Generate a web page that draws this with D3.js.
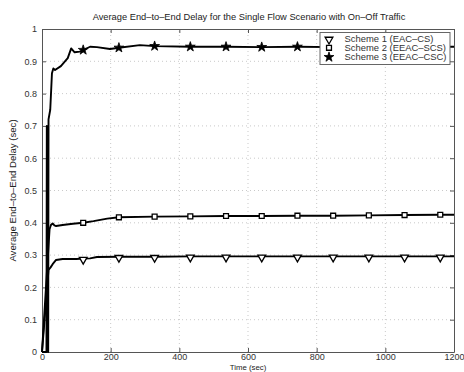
<!DOCTYPE html>
<html><head><meta charset="utf-8">
<script src="https://cdn.jsdelivr.net/npm/d3@7"></script>
<style>
body{margin:0;background:#fff;}
svg{display:block;font-family:"Liberation Sans",Arial,sans-serif;}
</style></head>
<body><svg id="c" width="464" height="372"></svg>
<script>
const titleText = "Average End\u2013to\u2013End Delay for the Single Flow Scenario with On\u2013Off Traffic";
const xLabel = "Time (sec)";
const yLabel = "Average End\u2013to\u2013End Delay (sec)";
const xTicks = [0, 200, 400, 600, 800, 1000, 1200];
const yTicks = [0, 0.1, 0.2, 0.3, 0.4, 0.5, 0.6, 0.7, 0.8, 0.9, 1];
const seriesNames = ["Scheme 1 (EAC\u2013CS)", "Scheme 2 (EEAC\u2013SCS)", "Scheme 3 (EEAC\u2013CSC)"];
const markerTimes = [120, 224, 328, 432, 536, 640, 744, 848, 952, 1056, 1160];

const s1Time = [0, 19, 25, 31, 41, 60, 100, 120, 140, 160, 224, 328, 432, 536, 640, 744, 848, 952, 1056, 1160, 1200];
const s1Delay = [0, .254, .262, .272, .285, .288, .288, .289, .290, .294, .295, .295, .296, .296, .296, .296, .296, .296, .296, .296, .296];

const s2Time = [0, 22, 26, 31, 36, 41, 60, 90, 120, 150, 190, 224, 328, 432, 536, 640, 744, 848, 952, 1056, 1160, 1200];
const s2Delay = [0, .38, .393, .398, .392, .39, .393, .397, .40, .405, .413, .417, .419, .42, .421, .421, .422, .422, .423, .424, .425, .425];

const s3Time = [0, 13, 14, 18, 19, 24, 29, 33, 38, 55, 75, 85, 95, 110, 120, 140, 160, 198, 224, 285, 328, 432, 536, 640, 744, 848, 952, 1056, 1160, 1200];
const s3Delay = [0, 0, .70, 0, .72, .75, .863, .878, .873, .885, .91, .94, .928, .93, .935, .945, .944, .938, .942, .95, .947, .945, .945, .944, .945, .944, .944, .945, .945, .945];

const W = 464, H = 372;
const m = {l: 42, r: 10, t: 29, b: 20};
const svg = d3.select("#c");
const x = d3.scaleLinear().domain([0, 1200]).range([m.l, W - m.r]);
const y = d3.scaleLinear().domain([0, 1]).range([H - m.b, m.t]);
const x0 = m.l, x1 = W - m.r, y0 = H - m.b, y1 = m.t;

// grid
const g = svg.append("g");
g.selectAll(".gx").data(xTicks.slice(1, -1)).join("line")
  .attr("x1", d => x(d)).attr("x2", d => x(d)).attr("y1", y0).attr("y2", y1)
  .attr("stroke", "#bbb").attr("stroke-width", 0.8).attr("stroke-dasharray", "1,3");
g.selectAll(".gy").data(yTicks.slice(1, -1)).join("line")
  .attr("y1", d => y(d)).attr("y2", d => y(d)).attr("x1", x0).attr("x2", x1)
  .attr("stroke", "#bbb").attr("stroke-width", 0.8).attr("stroke-dasharray", "1,3");

// axes (matlab style, inward ticks)
const axStyle = sel => { sel.select(".domain").attr("stroke", "#555");
  sel.selectAll(".tick line").attr("stroke", "#555");
  sel.selectAll("text").attr("fill", "#333").style("font-size", "9px"); };
svg.append("g").attr("transform", `translate(0,${y0})`)
  .call(d3.axisBottom(x).tickValues(xTicks).tickFormat(d3.format("d")).tickSizeInner(-4).tickSizeOuter(0).tickPadding(2))
  .call(axStyle);
svg.append("g").attr("transform", `translate(0,${y1})`)
  .call(d3.axisTop(x).tickValues(xTicks).tickFormat("").tickSizeInner(-4).tickSizeOuter(0))
  .call(axStyle);
svg.append("g").attr("transform", `translate(${x0},0)`)
  .call(d3.axisLeft(y).tickValues(yTicks).tickFormat(d => d === 0 || d === 1 ? d3.format("d")(d) : d3.format(".1f")(d)).tickSizeInner(-4).tickSizeOuter(0).tickPadding(5))
  .call(axStyle);
svg.append("g").attr("transform", `translate(${x1},0)`)
  .call(d3.axisRight(y).tickValues(yTicks).tickFormat("").tickSizeInner(-4).tickSizeOuter(0))
  .call(axStyle);

// lines
const series = [
  {t: s1Time, v: s1Delay, sym: "tri"},
  {t: s2Time, v: s2Delay, sym: "sq"},
  {t: s3Time, v: s3Delay, sym: "star"}
];
const line = d3.line().x(d => x(d[0])).y(d => y(d[1]));
const symGen = {
  tri: d3.symbol().type(d3.symbolTriangle).size(26),
  sq: d3.symbol().type(d3.symbolSquare).size(24),
  star: d3.symbol().type(d3.symbolStar).size(30)
};
function drawMarker(sel, sym, px, py) {
  const p = sel.append("path").attr("d", symGen[sym]()).attr("stroke", "#000").attr("stroke-width", 1.3);
  if (sym === "tri") p.attr("transform", `translate(${px},${py+1}) rotate(180)`).attr("fill", "#fff");
  else if (sym === "sq") p.attr("transform", `translate(${px},${py})`).attr("fill", "#fff");
  else p.attr("transform", `translate(${px},${py})`).attr("fill", "#000").attr("stroke-width", 0.8);
}
series.forEach(s => {
  const pts = s.t.map((t, i) => [t, s.v[i]]);
  svg.append("path").datum(pts).attr("d", line).attr("fill", "none")
    .attr("stroke", "#000").attr("stroke-width", 1.9).attr("stroke-linejoin", "round");
  const mg = svg.append("g");
  pts.filter(p => markerTimes.includes(p[0])).forEach(p => drawMarker(mg, s.sym, x(p[0]), y(p[1])));
});

// legend
const lg = svg.append("g");
lg.append("rect").attr("x", 320).attr("y", 32.5).attr("width", 130).attr("height", 32)
  .attr("fill", "#fff").attr("stroke", "#666").attr("stroke-width", 1);
seriesNames.forEach((n, i) => {
  const yy = 38.5 + i * 9.3;
  drawMarker(lg, series[i].sym, 329, yy);
  lg.append("text").attr("transform", `translate(344.5,${yy + 3.2}) scale(1.07,1)`).text(n)
    .attr("fill", "#333").style("font-size", "8.8px");
});

// texts
svg.append("text").attr("x", 249).attr("y", 20).attr("text-anchor", "middle")
  .style("font-size", "9.3px").attr("fill", "#222").text(titleText);
svg.append("text").attr("x", (x0 + x1) / 2).attr("y", 370.2).attr("text-anchor", "middle")
  .style("font-size", "7.8px").attr("fill", "#222").text(xLabel);
svg.append("text").attr("transform", `translate(16,${(y0 + y1) / 2}) rotate(-90)`).attr("text-anchor", "middle")
  .style("font-size", "9.6px").attr("fill", "#222").text(yLabel);
</script></body></html>
